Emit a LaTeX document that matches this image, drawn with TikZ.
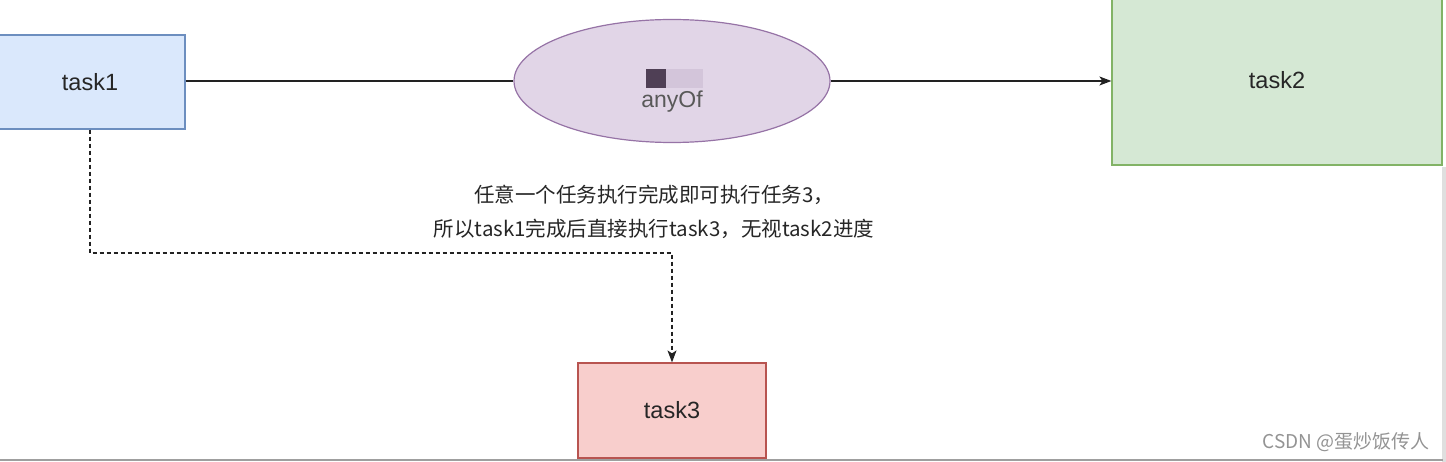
\documentclass[tikz,border=0pt]{standalone}
\usepackage{fontspec}
\setmainfont{Liberation Sans}
\newfontfamily\cjk{Noto Sans CJK SC}
\usepackage{xcolor}
\usepackage{tikz}
\usetikzlibrary{calc, shapes.geometric, positioning, arrows.meta}

\definecolor{xanhnen}{HTML}{DAE8FC}
\definecolor{xanhvien}{HTML}{6C8EBF}
\definecolor{lucnen}{HTML}{D5E8D4}
\definecolor{lucvien}{HTML}{82B366}
\definecolor{timnen}{HTML}{E1D5E7}
\definecolor{timvien}{HTML}{9673A6}
\definecolor{donen}{HTML}{F8CECC}
\definecolor{dovien}{HTML}{B85450}
\definecolor{duongnoi}{HTML}{222222}
\definecolor{chetoi}{HTML}{4F3F55}
\definecolor{chesang}{HTML}{D3C5DA}

\tikzset{
    hop/.style={line width=1.2pt, inner sep=0pt, text=black!85,
        font=\fontsize{23.5}{28}\selectfont},
    noi/.style={line width=1.3pt, draw=duongnoi},
}

\begin{document}
\begin{tikzpicture}[>={Stealth[length=12pt, width=9pt, inset=3pt]}, x=1pt, y=-1pt]
    \useasboundingbox (0,0) rectangle (1446,462);

    % Các khối công việc
    \node[hop, draw=xanhvien, fill=xanhnen, minimum width=190pt, minimum height=94pt] (task1) at (90,82) {task1};
    \node[hop, draw=lucvien, fill=lucnen, minimum width=330pt, minimum height=170pt] (task2) at (1277,80) {task2};
    \node[hop, draw=dovien, fill=donen, minimum width=188pt, minimum height=95pt] (task3) at (672,410.5) {task3};
    \node[ellipse, draw=timvien, fill=timnen, line width=1.2pt, minimum width=316pt, minimum height=123pt] (any) at (672,81) {};
    \node[text=black!65, font=\fontsize{23}{28}\selectfont] (anylabel) at (672,102) {anyOf};
    \fill[chesang] (666,69) rectangle (703,88);
    \fill[chetoi] (646,69) rectangle (666,88);

    % Các đường nối
    \draw[noi] (task1.east |- any.west) -- (any.west);
    \draw[noi, ->] (any.east) -- (task2.west |- any.east);
    \coordinate (gap) at (672,253);
    \draw[noi, dash pattern=on 4pt off 3pt, ->] (task1.south) |- (gap) -- (task3.north);

    % Chú thích
    \node[font=\cjk\fontsize{20.5}{34}\selectfont, text=black!85, align=center] (ghichu) at (654,212)
        {任意一个任务执行完成即可执行任务3，\\所以task1完成后直接执行task3，无视task2进度};

    % Viền ảnh chụp
    \fill[gray!25] (1442,167) rectangle (1446,462);
    \draw[gray!75, line width=2pt] (0,460) -- (1443,460);
    \node[anchor=east, font=\cjk\fontsize{19}{22}\selectfont, text=gray!85] (dau) at (1433,442) {CSDN @蛋炒饭传人};
\end{tikzpicture}
\end{document}
